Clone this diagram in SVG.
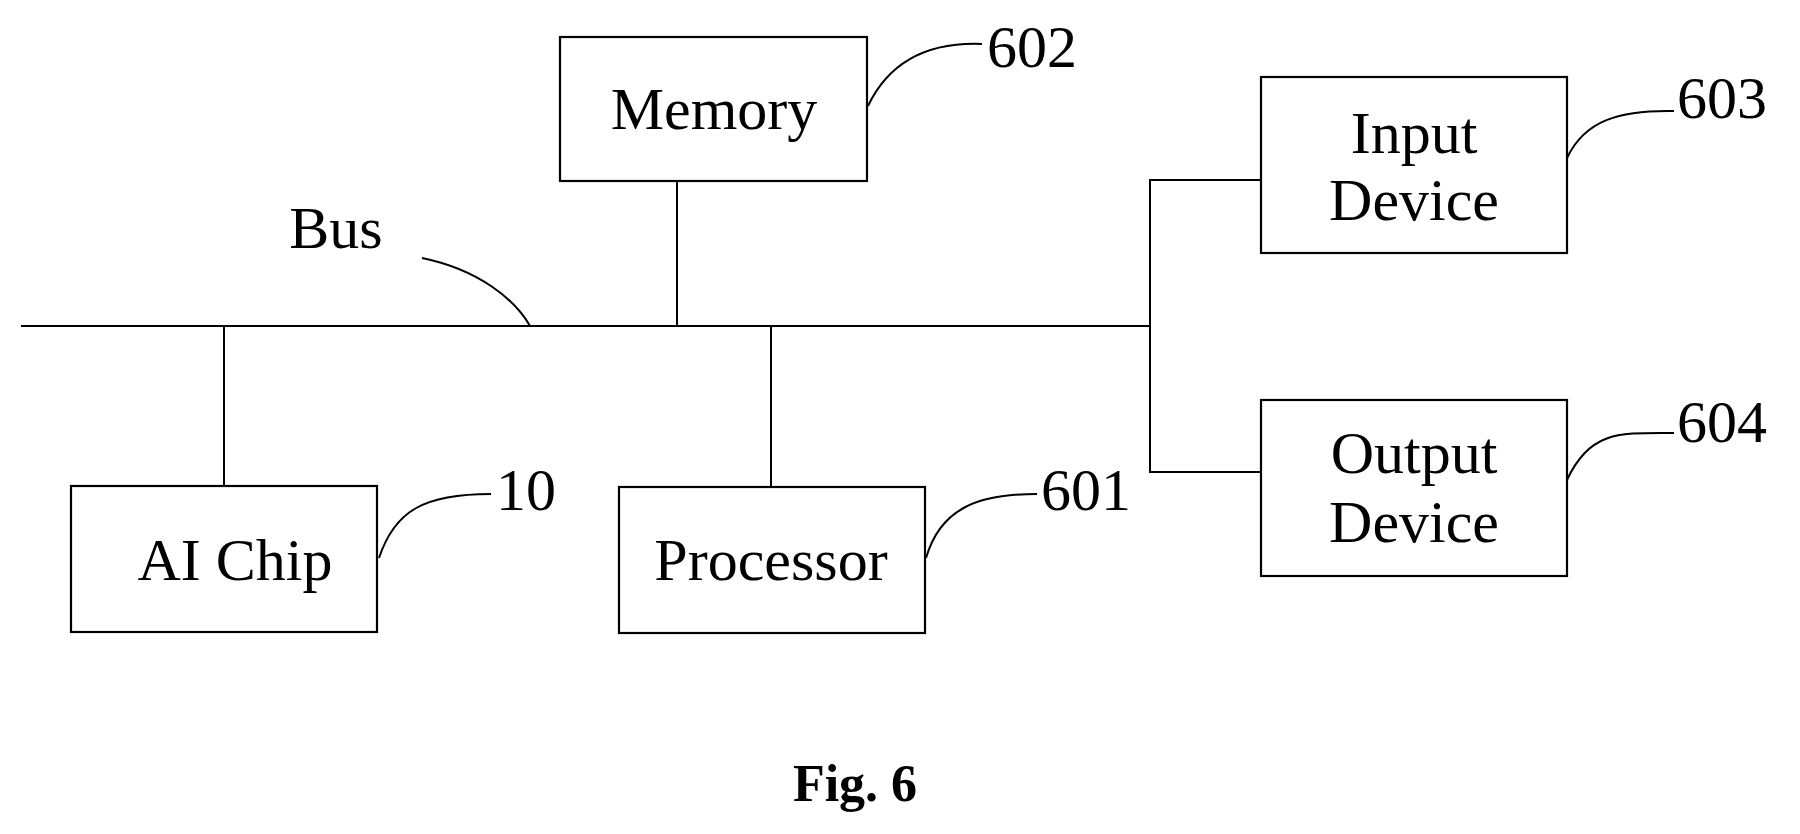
<svg xmlns="http://www.w3.org/2000/svg" width="1800" height="834" viewBox="0 0 1800 834">
<style>
.b{fill:#fff;stroke:#000;stroke-width:2.2}
.l{fill:none;stroke:#000;stroke-width:2}
text{font-family:"Liberation Serif","Times New Roman",serif;font-size:60px;fill:#000;text-anchor:middle}
.n{text-anchor:start}
</style>
<rect width="1800" height="834" fill="#fff"/>
<g id="connectors">
<line class="l" x1="21" y1="326" x2="1151" y2="326"/>
<line class="l" x1="677" y1="181" x2="677" y2="326"/>
<line class="l" x1="224" y1="326" x2="224" y2="486"/>
<line class="l" x1="771" y1="326" x2="771" y2="487"/>
<polyline class="l" points="1261,180 1150,180 1150,472 1261,472"/>
<path class="l" d="M422,258 C480,270 515,300 530,326"/>
<path class="l" d="M868,106 C890,60 930,42 982,44"/>
<path class="l" d="M1567,158 C1585,120 1620,110 1674,111"/>
<path class="l" d="M1567,480 C1590,430 1620,433 1674,433"/>
<path class="l" d="M379,558 C395,510 425,494 491,494"/>
<path class="l" d="M926,558 C940,510 975,494 1037,494"/>
</g>
<g id="memory"><rect class="b" x="560" y="37" width="307" height="144"/><text x="714" y="129">Memory</text></g>
<g id="input"><rect class="b" x="1261" y="77" width="306" height="176"/><text x="1414" y="153">Input</text><text x="1414" y="220">Device</text></g>
<g id="output"><rect class="b" x="1261" y="400" width="306" height="176"/><text x="1414" y="473">Output</text><text x="1414" y="542">Device</text></g>
<g id="aichip"><rect class="b" x="71" y="486" width="306" height="146"/><text x="235" y="580">AI Chip</text></g>
<g id="processor"><rect class="b" x="619" y="487" width="306" height="146"/><text x="771" y="580">Processor</text></g>
<g id="labels">
<text x="336" y="248">Bus</text>
<text class="n" x="987" y="67">602</text>
<text class="n" x="1677" y="118">603</text>
<text class="n" x="1677" y="442">604</text>
<text class="n" x="496" y="510">10</text>
<text class="n" x="1041" y="510">601</text>
<text x="855" y="801" style="font-weight:bold;font-size:52px">Fig. 6</text>
</g>
</svg>
